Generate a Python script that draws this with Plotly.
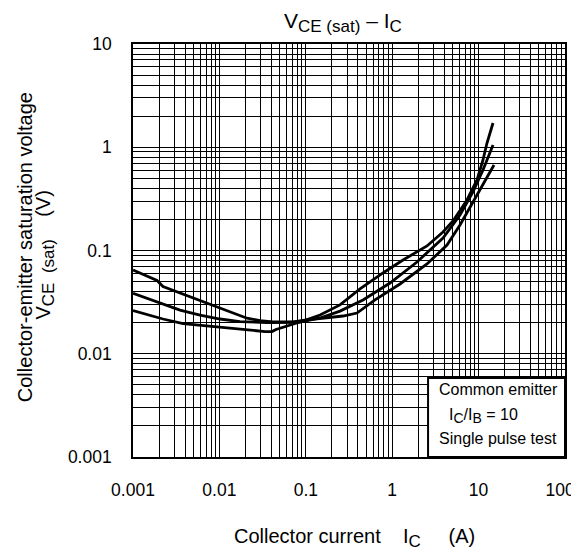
import plotly.graph_objects as go

# Collector current (A) and VCE(sat) (V) for the three curves
ic_a = [0.001, 0.001896, 0.002224, 0.005505, 0.01101, 0.02087, 0.02951, 0.04174,
        0.07109, 0.09282, 0.2696, 0.3914, 0.6325, 1.231, 2.528, 4.308, 6.091,
        7.953, 9.842, 12.51, 15.07]
vce_a = [0.0647, 0.0512, 0.0448, 0.0337, 0.0270, 0.0221, 0.0209, 0.0203,
         0.0203, 0.0210, 0.0232, 0.0248, 0.0332, 0.0474, 0.0740, 0.1131, 0.1766,
         0.2638, 0.3605, 0.5150, 0.6730]

ic_b = [0.001, 0.001896, 0.003499, 0.005964, 0.01016, 0.01731, 0.03556, 0.06059,
        0.08568, 0.1461, 0.2488, 0.4592, 0.9430, 1.936, 3.873, 6.091, 8.614,
        11.24, 13.55, 14.68]
vce_b = [0.0385, 0.0319, 0.0265, 0.0237, 0.0217, 0.0205, 0.0200, 0.0201,
         0.0203, 0.0222, 0.0259, 0.0332, 0.0484, 0.0774, 0.1322, 0.2207, 0.3687,
         0.6022, 0.8798, 1.051]

ic_c = [0.001, 0.002224, 0.003791, 0.007783, 0.01327, 0.02087, 0.03372, 0.04063,
        0.04519, 0.08568, 0.1461, 0.2488, 0.4239, 0.7824, 1.334, 2.528, 3.873,
        5.054, 7.340, 9.583, 11.24, 12.51, 13.55, 14.68]
vce_c = [0.0262, 0.0217, 0.0196, 0.0184, 0.0176, 0.0170, 0.0164, 0.0164,
         0.0172, 0.0203, 0.0237, 0.0297, 0.0424, 0.0606, 0.0809, 0.1106, 0.1511,
         0.1931, 0.3084, 0.4817, 0.7525, 1.099, 1.405, 1.718]

x_ticks = [0.001, 0.01, 0.1, 1, 10, 100]
x_ticktext = ["0.001", "0.01", "0.1", "1", "10", "100\u00a0\u00a0"]
y_ticks = [0.001, 0.01, 0.1, 1, 10]
y_ticktext = ["0.001", "0.01", "0.1", "1", "10"]

FONT = "Arial, Liberation Sans, sans-serif"

x_minor = [m * d for d in [0.001, 0.01, 0.1, 1, 10] for m in range(2, 10)]
y_minor = [m * d for d in [0.001, 0.01, 0.1, 1] for m in range(2, 10)]

fig = go.Figure()
for xs, ys in [(ic_a, vce_a), (ic_b, vce_b), (ic_c, vce_c)]:
    fig.add_trace(go.Scatter(x=xs, y=ys, mode="lines",
                             line=dict(color="black", width=2.8),
                             showlegend=False, hoverinfo="skip"))

axis_common = dict(type="log", showline=True, linecolor="black", linewidth=1.6, mirror=True,
                   showgrid=True, gridcolor="black", gridwidth=1, zeroline=False,
                   automargin=False, ticklabeloverflow="allow",
                   ticks="", tickfont=dict(family=FONT, size=17.5, color="black"))

fig.update_xaxes(range=[-3, 2], tickmode="array", tickvals=x_ticks, ticktext=x_ticktext,
                 ticklabelstandoff=16,
                 minor=dict(tickmode="array", tickvals=x_minor, showgrid=True,
                            gridcolor="black", gridwidth=1, ticks=""),
                 **axis_common)
fig.update_yaxes(range=[-3, 1], tickmode="array", tickvals=y_ticks, ticktext=y_ticktext,
                 ticklabelstandoff=16,
                 minor=dict(tickmode="array", tickvals=y_minor, showgrid=True,
                            gridcolor="black", gridwidth=1, ticks=""),
                 **axis_common)

# condition box
fig.add_shape(type="rect", xref="paper", yref="paper", x0=0.683, x1=1.0, y0=0.0, y1=0.191,
              fillcolor="white", line=dict(color="black", width=2), layer="above")

ann_font = dict(family=FONT, size=16, color="black")
fig.add_annotation(xref="paper", yref="paper", x=0.704, y=0.163, text="Common emitter",
                   showarrow=False, xanchor="left", yanchor="middle", font=ann_font)
fig.add_annotation(xref="paper", yref="paper", x=0.727, y=0.100,
                   text="I<sub><span style='font-size:14px'>C</span></sub>/I<sub><span style='font-size:14px'>B</span></sub> = 10",
                   showarrow=False, xanchor="left", yanchor="middle", font=ann_font)
fig.add_annotation(xref="paper", yref="paper", x=0.704, y=0.046, text="Single pulse test",
                   showarrow=False, xanchor="left", yanchor="middle", font=ann_font)

# title
fig.add_annotation(xref="paper", yref="paper", x=0.486, y=1.051,
                   text="V<sub><span style='font-size:17px'>CE (sat)</span></sub> \u2013 I<sub><span style='font-size:17px'>C</span></sub>",
                   showarrow=False, xanchor="center", yanchor="middle",
                   font=dict(family=FONT, size=21, color="black"))
# x title
fig.add_annotation(xref="paper", yref="paper", x=0.512, y=-0.195,
                   text="Collector current\u00a0\u00a0\u00a0 I<sub><span style='font-size:17px'>C</span></sub>\u00a0\u00a0\u00a0\u00a0 (A)",
                   showarrow=False, xanchor="center", yanchor="middle",
                   font=dict(family=FONT, size=20, color="black"))
# y title
fig.add_annotation(xref="paper", yref="paper", x=-0.25, y=0.508,
                   text="Collector-emitter saturation voltage", textangle=-90,
                   showarrow=False, xanchor="center", yanchor="middle",
                   font=dict(family=FONT, size=20, color="black"))
fig.add_annotation(xref="paper", yref="paper", x=-0.204, y=0.49,
                   text="V<sub><span style='font-size:17px'>CE\u00a0 (sat)</span></sub>\u00a0\u00a0\u00a0 (V)", textangle=-90,
                   showarrow=False, xanchor="center", yanchor="middle",
                   font=dict(family=FONT, size=20, color="black"))

# page body has an 8px margin; margins are set so the plot area lands where the reference has it
fig.update_layout(width=579, height=556, margin=dict(l=125, r=22, t=36, b=107),
                  paper_bgcolor="white", plot_bgcolor="white")

fig.write_html("out.html")
